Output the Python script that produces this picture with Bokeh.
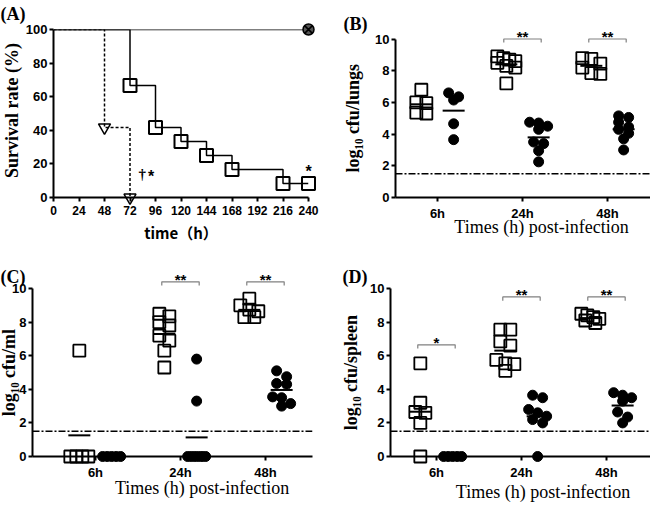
import numpy as np
from math import pi
from bokeh.plotting import figure
from bokeh.layouts import row, column
from bokeh.models import Span, FixedTicker, ColumnDataSource
from bokeh.core.properties import value
from bokeh.embed import file_html
from bokeh.resources import INLINE

# ---------------- data ----------------
# Panel A: survival (%) versus time (h)
km_time = [0, 72, 96, 120, 144, 168, 216, 240]
km_surv = [100, 66.7, 41.7, 33.3, 25.0, 16.7, 8.3, 8.3]
dash_time = [0, 48, 72]
dash_surv = [100, 41.7, 0]
flat_time = [0, 240]
flat_surv = [100, 100]
a_xticks = [0, 24, 48, 72, 96, 120, 144, 168, 192, 216, 240]
a_yticks = [0, 20, 40, 60, 80, 100]

categories = ["6h", "24h", "48h"]
log_ticks = [0, 2, 4, 6, 8, 10]
detection_limit = 1.5

# Panel B: log10 cfu/lungs (squares / circles) at 6h, 24h, 48h
lungs_sq = [[6.8, 6.0, 5.95, 5.35, 5.3],
            [8.9, 8.8, 8.7, 8.6, 8.5, 8.3, 8.2, 7.2],
            [8.8, 8.75, 8.45, 8.2, 7.85, 7.8]]
lungs_ci = [[6.6, 6.35, 6.15, 4.65, 3.65],
            [4.75, 4.7, 4.5, 4.3, 3.5, 3.4, 2.95, 2.25],
            [5.15, 5.05, 4.75, 4.45, 4.3, 4.05, 3.7, 3.0]]
# Panel C: log10 cfu/ml
blood_sq = [[6.3, 0, 0, 0, 0],
            [8.5, 8.35, 8.0, 7.8, 7.2, 6.9, 6.3, 5.3],
            [9.4, 9.0, 8.75, 8.65, 8.3, 8.3]]
blood_ci = [[0, 0, 0, 0, 0],
            [5.8, 3.3, 0, 0, 0, 0, 0, 0],
            [5.1, 4.75, 4.35, 4.3, 3.55, 3.5, 3.15, 3.0]]
# Panel D: log10 cfu/spleen
spleen_sq = [[5.55, 3.2, 2.65, 2.6, 2.0, 0],
             [7.55, 7.55, 6.85, 6.6, 5.75, 5.55, 5.5, 5.1],
             [8.5, 8.4, 8.3, 8.2, 8.1, 7.95]]
spleen_ci = [[0, 0, 0, 0, 0],
             [3.65, 3.5, 2.8, 2.6, 2.4, 2.2, 2.0, 0],
             [3.8, 3.65, 3.5, 3.3, 2.65, 2.35, 2.0]]

# significance brackets: (category index 1-based, height, text)
lungs_sig = [(2, 10.0, "**"), (3, 10.0, "**")]
blood_sig = [(2, 10.4, "**"), (3, 10.4, "**")]
spleen_sig = [(1, 6.65, "*"), (2, 9.5, "**"), (3, 9.5, "**")]

# ---------------- style ----------------
SERIF = "Liberation Serif"
SANS = "Liberation Sans"
W, H = 325, 253
PX_PER_CAT = 85.0
GROUP_OFF = 0.19
Y_TOP = 10.6


def style_axes(p, tick_size="13px"):
    p.outline_line_color = None
    p.xgrid.grid_line_color = None
    p.ygrid.grid_line_color = None
    p.background_fill_color = "white"
    p.border_fill_color = "white"
    for ax in (p.xaxis[0], p.yaxis[0]):
        ax.axis_line_width = 2
        ax.axis_line_color = "black"
        ax.major_tick_line_width = 2
        ax.major_tick_line_color = "black"
        ax.major_tick_out = 4
        ax.major_tick_in = 0
        ax.minor_tick_line_color = None
        ax.major_label_text_font = SANS
        ax.major_label_text_font_style = "bold"
        ax.major_label_text_font_size = tick_size
        ax.major_label_text_color = "black"
    p.yaxis[0].major_label_standoff = 2
    p.xaxis[0].major_label_standoff = 4


def add_text(p, text, x, y, xo, yo, size, font=SERIF, style="bold", angle=0,
             align="center", baseline="middle"):
    r = p.text(x=[x], y=[y], text=[text], x_offset=xo, y_offset=yo, angle=angle,
               text_font=value(font), text_font_style=style, text_font_size=size,
               text_align=align, text_baseline=baseline, text_color="black")
    r.level = "overlay"
    return r


def spread(vals, step_px=10.0, max_px=18.0, row_h=0.4):
    v = np.asarray(vals, dtype=float)
    order = np.argsort(-v, kind="stable")
    offsets = np.zeros(len(v))
    rows = []
    for i in order:
        if rows and v[rows[-1][0]] - v[i] <= row_h:
            rows[-1].append(i)
        else:
            rows.append([i])
    for rw in rows:
        n = len(rw)
        if n < 2:
            continue
        s = min(step_px, max_px / (n - 1))
        for k, i in enumerate(rw):
            offsets[i] = (k - (n - 1) / 2) * s / PX_PER_CAT
    return offsets


# ---------------- panel A ----------------
pA = figure(width=W, height=H, output_backend="svg", toolbar_location=None,
            x_range=(0, 240), y_range=(0, 100),
            min_border_left=53, min_border_right=17, min_border_top=29, min_border_bottom=56)
style_axes(pA, tick_size="12px")
pA.yaxis[0].major_label_text_font_size = "13px"
pA.xaxis[0].ticker = FixedTicker(ticks=a_xticks)
pA.yaxis[0].ticker = FixedTicker(ticks=a_yticks)

pA.line(flat_time, flat_surv, line_color="black", line_width=1.5)
pA.step(km_time, km_surv, mode="after", line_color="black", line_width=1.5)
pA.step(dash_time, dash_surv, mode="after", line_color="black", line_width=1.5,
        line_dash="3 2")
r = pA.scatter(km_time[1:], km_surv[1:], marker="square", size=13, fill_alpha=0,
               line_color="black", line_width=2)
r.level = "overlay"
r = pA.scatter(dash_time[1:], dash_surv[1:], marker="inverted_triangle", size=12,
               fill_alpha=0, line_color="black", line_width=1.5)
r.level = "overlay"
r = pA.scatter(flat_time[-1:], flat_surv[-1:], marker="circle_x", size=11,
               fill_color="#555555", line_color="black", line_width=1.5)
r.level = "overlay"

add_text(pA, "(A)", 0, 100, -53, -26, "18px", align="left", baseline="top")
add_text(pA, "Survival rate (%)", 0, 50, -42, -3, "18px", angle=pi / 2)
add_text(pA, "time（h）", 120, 0, 0, 35, "15px", font="Noto Sans CJK JP")
add_text(pA, "†", 80, 14, 0, 0, "15px", font=SERIF, style="bold", align="left")
add_text(pA, "*", 89, 14, 0, 3, "16px", font=SANS, align="left")
add_text(pA, "*", 240, 17, 0, 3, "16px", font=SANS)


# ---------------- dot panels ----------------
def dot_panel(sq, ci, sig, ylabel, letter, x_start, left, right, top, bottom,
              letter_off, ylab_off, xlab_pos):
    frame_w = W - left - right
    x_end = x_start + frame_w / PX_PER_CAT
    p = figure(width=W, height=H, output_backend="svg", toolbar_location=None,
               x_range=(x_start, x_end), y_range=(0, Y_TOP),
               min_border_left=left, min_border_right=right,
               min_border_top=top, min_border_bottom=bottom)
    style_axes(p)
    p.yaxis[0].ticker = FixedTicker(ticks=log_ticks)
    p.yaxis[0].bounds = (0, 10)
    p.xaxis[0].ticker = FixedTicker(ticks=[1, 2, 3])
    p.xaxis[0].major_label_overrides = {i + 1: c for i, c in enumerate(categories)}

    p.add_layout(Span(location=detection_limit, dimension="width", line_color="black",
                      line_width=1.5, line_dash="7 2 2 2"))

    for groups, side, marker in ((sq, -1, "square"), (ci, 1, "circle")):
        xs, ys, mx, my = [], [], [], []
        for ci_, vals in enumerate(groups):
            cx = ci_ + 1 + side * GROUP_OFF
            off = spread(vals)
            xs.extend(list(cx + off))
            ys.extend(vals)
            mx.append(cx)
            my.append(float(np.mean(vals)))
        src = ColumnDataSource(dict(x=xs, y=ys))
        if marker == "square":
            r = p.scatter("x", "y", source=src, marker="square", size=12, fill_alpha=0,
                          line_color="black", line_width=1.8)
        else:
            r = p.scatter("x", "y", source=src, marker="circle", size=10,
                          fill_color="black", line_color="black", line_width=1)
        r.level = "overlay"
        m = p.scatter(mx, my, marker="dash", size=22, line_color="black", line_width=2)
        m.level = "overlay"

    bx, by, tx, ty, tt = [], [], [], [], []
    for cat, yb, txt in sig:
        x0 = cat - GROUP_OFF - 0.03
        x1 = cat + GROUP_OFF + 0.03
        bx.append([x0, x0, x1, x1])
        by.append([yb - 0.22, yb, yb, yb - 0.22])
        tx.append(cat)
        ty.append(yb)
        tt.append(txt)
    r = p.multi_line(bx, by, line_color="#808080", line_width=1.2)
    r.level = "overlay"
    r = p.text(tx, ty, text=tt, text_align="center", text_baseline="bottom",
               text_font=value(SANS), text_font_style="bold", text_font_size="15px",
               text_color="black", y_offset=6)
    r.level = "overlay"

    add_text(p, letter, x_start, Y_TOP, letter_off[0], letter_off[1], "18px",
             align="left", baseline="top")
    add_text(p, ylabel, x_start, 5, ylab_off, 0, "18px", angle=pi / 2)
    add_text(p, "Times (h) post-infection", xlab_pos[0], 0, 0, xlab_pos[1], "18px",
             style="normal")
    return p


pB = dot_panel(lungs_sq, lungs_ci, lungs_sig, "log₁₀ cfu/lungs", "(B)", 0.506,
               70, 0, 18, 56, (-52, -16), -43, (2.224, 29))
pC = dot_panel(blood_sq, blood_ci, blood_sig, "log₁₀ cfu/ml", "(C)", 0.259,
               32, 13, 24, 50, (-32, -12), -24, (2.255, 31))
pD = dot_panel(spleen_sq, spleen_ci, spleen_sig, "log₁₀ cfu/spleen", "(D)", 0.459,
               65, 0, 25, 48, (-48, -12), -40, (2.253, 35))

layout = column(row(pA, pB), row(pC, pD))

open("out.html", "w").write(file_html(layout, INLINE))
